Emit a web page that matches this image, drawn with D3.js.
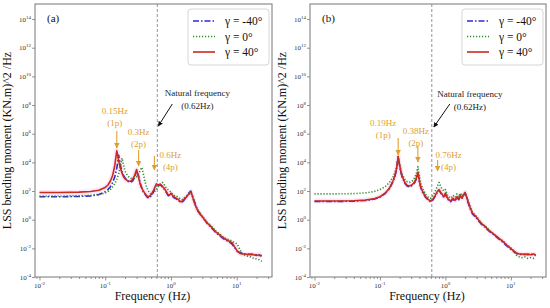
<!DOCTYPE html>
<html>
<head>
<meta charset="utf-8">
<script src="https://cdn.jsdelivr.net/npm/d3@7"></script>
<style>
  body { margin: 0; background: #fff; }
  svg { display: block; }
  text { font-family: "Liberation Serif", "Times New Roman", serif; }
</style>
</head>
<body>
<svg width="550" height="308"></svg>
<script>
// frequencies (Hz) and log10 of the PSD
var freqA = [0.01, 0.02, 0.04, 0.06, 0.08, 0.1, 0.11, 0.12, 0.13, 0.14,
  0.15, 0.155, 0.16, 0.17, 0.18, 0.19, 0.2, 0.22, 0.24, 0.26,
  0.28, 0.3, 0.32, 0.34, 0.36, 0.38, 0.4, 0.43, 0.46, 0.5,
  0.55, 0.6, 0.65, 0.7, 0.75, 0.8, 0.85, 0.9, 0.95, 1.0,
  1.05, 1.1, 1.2, 1.3, 1.4, 1.5, 1.6, 1.7, 1.8, 1.9,
  2.0, 2.1, 2.2, 2.4, 2.6, 2.8, 3.0, 3.3, 3.6, 4.0,
  4.4, 4.8, 5.3, 5.8, 6.4, 7.0, 7.7, 8.5, 9.3, 10.2,
  11.2, 12.3, 13.5, 14.8, 16.3, 18, 20, 22, 24];

var aNeg40 = [1.6, 1.6, 1.62, 1.66, 1.75, 1.95, 2.1, 2.3, 2.6, 3.0,
  3.6, 4.0, 4.5, 3.8, 3.35, 3.1, 2.9, 2.7, 2.6, 2.7,
  2.95, 3.3, 3.1, 2.55, 2.2, 1.95, 1.8, 1.6, 1.5, 1.65,
  2.0, 2.45, 2.4, 2.4, 2.25, 2.1, 1.9, 1.7, 1.65, 1.8,
  1.65, 1.55, 1.45, 1.35, 1.2, 1.25, 1.4, 1.55, 1.75, 1.9,
  2.0, 1.75, 1.45, 0.95, 0.6, 0.4, 0.2, -0.05, -0.3, -0.5,
  -0.7, -0.9, -1.05, -1.2, -1.35, -1.45, -1.55, -1.7, -1.95, -2.2,
  -2.3, -2.35, -2.4, -2.4, -2.45, -2.4, -2.45, -2.5, -2.5];

var aZero = [1.65, 1.65, 1.67, 1.7, 1.77, 1.85, 1.95, 2.1, 2.3, 2.5,
  2.8, 3.0, 3.2, 3.7, 4.3, 3.8, 3.4, 3.05, 2.9, 2.85,
  2.9, 3.0, 3.2, 3.4, 3.65, 3.2, 2.7, 2.2, 1.95, 1.75,
  1.9, 2.1, 2.35, 2.55, 2.6, 2.4, 2.2, 2.1, 2.0, 1.95,
  1.8, 1.7, 1.65, 1.55, 1.45, 1.4, 1.55, 1.6, 1.7, 1.8,
  1.85, 1.65, 1.35, 0.9, 0.6, 0.4, 0.25, 0.0, -0.2, -0.4,
  -0.6, -0.8, -0.95, -1.1, -1.25, -1.35, -1.4, -1.5, -1.6, -1.7,
  -2.1, -2.4, -2.5, -2.55, -2.6, -2.7, -2.75, -2.8, -2.9];

var aPos40 = [1.9, 1.9, 1.92, 1.97, 2.05, 2.25, 2.42, 2.7, 3.1, 3.8,
  4.8, 4.5, 4.1, 3.6, 3.25, 3.0, 2.85, 2.7, 2.68, 2.8,
  3.1, 3.5, 3.0, 2.5, 2.2, 2.0, 1.85, 1.65, 1.6, 1.75,
  2.1, 2.5, 2.4, 2.45, 2.3, 2.15, 1.95, 1.75, 1.7, 1.85,
  1.7, 1.6, 1.5, 1.4, 1.25, 1.3, 1.45, 1.55, 1.7, 1.85,
  1.95, 1.7, 1.4, 0.9, 0.55, 0.35, 0.2, -0.05, -0.25, -0.45,
  -0.65, -0.85, -1.0, -1.15, -1.3, -1.4, -1.5, -1.6, -1.9, -2.2,
  -2.35, -2.4, -2.4, -2.45, -2.4, -2.45, -2.5, -2.45, -2.55];

var freqB = [0.01, 0.02, 0.04, 0.06, 0.08, 0.1, 0.12, 0.14, 0.16, 0.17,
  0.18, 0.19, 0.2, 0.21, 0.22, 0.24, 0.26, 0.28, 0.3, 0.32,
  0.34, 0.36, 0.38, 0.4, 0.42, 0.45, 0.5, 0.55, 0.6, 0.65,
  0.7, 0.75, 0.8, 0.85, 0.9, 0.95, 1.0, 1.05, 1.1, 1.2,
  1.3, 1.4, 1.5, 1.6, 1.7, 1.8, 1.9, 2.0, 2.1, 2.2,
  2.4, 2.6, 2.8, 3.0, 3.3, 3.6, 4.0, 4.4, 4.8, 5.3,
  5.8, 6.4, 7.0, 7.7, 8.5, 9.3, 10.2, 11.2, 12.3, 13.5,
  14.8, 16.3, 18, 20, 22, 24];

var bNeg40 = [1.27, 1.27, 1.29, 1.34, 1.42, 1.57, 1.82, 2.17, 2.7, 3.05,
  3.55, 4.35, 3.75, 3.25, 2.95, 2.55, 2.35, 2.3, 2.35, 2.45,
  2.6, 2.85, 3.25, 2.65, 2.25, 1.9, 1.55, 1.35, 1.25, 1.4,
  1.65, 1.9, 2.05, 1.85, 1.7, 1.55, 1.8, 1.55, 1.4, 1.25,
  1.45, 1.3, 1.55, 1.4, 1.65, 1.5, 1.7, 1.85, 1.55, 1.25,
  0.75, 0.4, 0.25, 0.1, -0.15, -0.35, -0.5, -0.7, -0.85, -1.0,
  -1.15, -1.3, -1.45, -1.6, -1.8, -1.95, -2.1, -2.25, -2.35, -2.4,
  -2.45, -2.4, -2.45, -2.4, -2.45, -2.5];

var bZero = [1.8, 1.8, 1.82, 1.87, 1.95, 2.1, 2.3, 2.6, 3.0, 3.3,
  3.7, 4.4, 3.9, 3.45, 3.15, 2.8, 2.65, 2.6, 2.65, 2.75,
  2.95, 3.2, 3.7, 3.0, 2.55, 2.15, 1.75, 1.55, 1.5, 1.7,
  2.0, 2.3, 2.6, 2.3, 2.1, 2.0, 2.1, 1.8, 1.6, 1.5,
  1.7, 1.55, 1.8, 1.6, 1.85, 1.65, 1.8, 1.9, 1.7, 1.4,
  0.9, 0.5, 0.35, 0.2, -0.05, -0.25, -0.45, -0.6, -0.8, -0.95,
  -1.1, -1.25, -1.4, -1.5, -1.7, -1.85, -2.0, -2.2, -2.5, -2.6,
  -2.65, -2.6, -2.7, -2.65, -2.7, -2.75];

var bPos40 = [1.3, 1.3, 1.32, 1.37, 1.45, 1.6, 1.85, 2.2, 2.75, 3.1,
  3.6, 4.4, 3.8, 3.3, 3.0, 2.6, 2.4, 2.35, 2.4, 2.5,
  2.65, 2.9, 3.3, 2.7, 2.3, 1.95, 1.6, 1.4, 1.3, 1.45,
  1.7, 1.95, 2.1, 1.9, 1.75, 1.6, 1.85, 1.6, 1.45, 1.3,
  1.5, 1.35, 1.6, 1.45, 1.7, 1.5, 1.75, 1.9, 1.6, 1.3,
  0.8, 0.45, 0.3, 0.15, -0.1, -0.3, -0.45, -0.65, -0.8, -0.95,
  -1.1, -1.25, -1.4, -1.55, -1.75, -1.9, -2.05, -2.2, -2.35, -2.4,
  -2.4, -2.45, -2.4, -2.45, -2.4, -2.45];

var legendLabels = ["\u03B3 = -40\u00B0", "\u03B3 = 0\u00B0", "\u03B3 = 40\u00B0"];
var yTickExp = [-4, -2, 0, 2, 4, 6, 8, 10, 12, 14];
var xTickExp = [-2, -1, 0, 1];
var naturalFreq = 0.62;
var harmA = [0.15, 0.3, 0.6];
var harmLabelsA = ["0.15Hz", "0.3Hz", "0.6Hz"];
var harmB = [0.19, 0.38, 0.76];
var harmLabelsB = ["0.19Hz", "0.38Hz", "0.76Hz"];
var harmOrder = ["(1p)", "(2p)", "(4p)"];

var styles = [
  { color: "#2b2bd6", dash: "6,2,1.5,2", width: 1.6 },
  { color: "#2f8a2a", dash: "1.2,1.8", width: 1.6 },
  { color: "#cc2a1c", dash: null, width: 1.6 }
];
var noteColor = "#e0a030";

var svg = d3.select("svg");
var defs = svg.append("defs");
function marker(id, col) {
  defs.append("marker").attr("id", id)
    .attr("viewBox", "0 0 10 10").attr("refX", 9).attr("refY", 5)
    .attr("markerWidth", 5).attr("markerHeight", 5).attr("orient", "auto")
    .append("path").attr("d", "M0,0L10,5L0,10Z").attr("fill", col);
}
marker("headO", noteColor);
marker("headK", "#111");

var plotTop = 4, plotBottom = 277;

var panels = [
  { label: "(a)", left: 35, right: 272, freq: freqA, series: [aNeg40, aZero, aPos40],
    harm: harmA, harmLabels: harmLabelsA,
    // text centre dx, text baseline, arrow dx, arrow y0, arrow y1
    notes: [[-2, 114, 0, 131, 148], [2, 135, 2, 150, 166], [14, 158, -2, 156, 170]],
    nat: [40, 96, 15, 104, 1, 126] },
  { label: "(b)", left: 310, right: 546, freq: freqB, series: [bNeg40, bZero, bPos40],
    harm: harmB, harmLabels: harmLabelsB,
    notes: [[-15, 126, 0, 138, 155], [-2, 134, 0, 146, 162], [11, 158, 0, 160, 171]],
    nat: [38, 97, 18, 104, 2, 127] }
];

panels.forEach(function(p) {
  var g = svg.append("g");
  var x = d3.scaleLog().domain([0.00855, 34.4]).range([p.left, p.right]);
  var y = d3.scaleLog().domain([1e-4, Math.pow(10, 15.05)]).range([plotBottom, plotTop]);

  // ticks on x
  var xAxis = d3.axisBottom(x)
    .tickValues(xTickExp.map(function(e) { return Math.pow(10, e); }))
    .tickSize(3.5).tickFormat("");
  g.append("g").attr("transform", "translate(0," + plotBottom + ")").call(xAxis);
  var minors = [];
  for (var e = -3; e <= 1; e++) {
    for (var k = 2; k <= 9; k++) {
      var v = k * Math.pow(10, e);
      if (v > x.domain()[0] && v < x.domain()[1]) minors.push(v);
    }
  }
  g.append("g").attr("transform", "translate(0," + plotBottom + ")")
    .call(d3.axisBottom(x).tickValues(minors).tickSize(2).tickFormat(""));

  // ticks on y
  g.append("g").attr("transform", "translate(" + p.left + ",0)")
    .call(d3.axisLeft(y).tickValues(yTickExp.map(function(e) { return Math.pow(10, e); }))
      .tickSize(3).tickFormat(""));
  g.selectAll(".domain").remove();
  g.selectAll(".tick line").attr("stroke", "#666").attr("stroke-width", 0.7);

  xTickExp.forEach(function(e) {
    var t = g.append("text").attr("x", x(Math.pow(10, e))).attr("y", 288)
      .attr("text-anchor", "middle").attr("font-size", 7).attr("fill", "#333");
    t.append("tspan").text("10");
    t.append("tspan").attr("dy", -3).attr("font-size", 5).text(e);
  });
  yTickExp.forEach(function(e) {
    var t = g.append("text").attr("x", p.left - 4).attr("y", y(Math.pow(10, e)) + 2.5)
      .attr("text-anchor", "end").attr("font-size", 7).attr("fill", "#333");
    t.append("tspan").text("10");
    t.append("tspan").attr("dy", -3).attr("font-size", 5).text(e);
  });

  // frame
  g.append("rect").attr("x", p.left).attr("y", plotTop)
    .attr("width", p.right - p.left).attr("height", plotBottom - plotTop)
    .attr("fill", "none").attr("stroke", "#777").attr("stroke-width", 1);

  // natural frequency line
  g.append("line").attr("x1", x(naturalFreq)).attr("x2", x(naturalFreq))
    .attr("y1", plotTop).attr("y2", plotBottom)
    .attr("stroke", "#888").attr("stroke-width", 0.9).attr("stroke-dasharray", "3,2");

  var line = d3.line()
    .x(function(d, i) { return x(p.freq[i]); })
    .y(function(d) { return y(Math.pow(10, d)); });

  var plot = g.append("g");
  // faint pink glow around the 40 deg curve
  plot.append("path").attr("d", line(p.series[2]))
    .attr("fill", "none").attr("stroke", "#fbd0f2").attr("stroke-width", 5)
    .attr("stroke-linejoin", "round").attr("opacity", 0.5);
  p.series.forEach(function(s, i) {
    plot.append("path").attr("d", line(s))
      .attr("fill", "none").attr("stroke", styles[i].color)
      .attr("stroke-width", styles[i].width)
      .attr("stroke-dasharray", styles[i].dash)
      .attr("stroke-linejoin", "round");
  });

  // panel label
  g.append("text").attr("x", p.left + 12).attr("y", 22)
    .attr("font-size", 11).attr("fill", "#111").text(p.label);

  // harmonic notes
  p.harm.forEach(function(f, i) {
    var n = p.notes[i];
    var cx = x(f) + n[0];
    g.append("text").attr("x", cx).attr("y", n[1]).attr("text-anchor", "middle")
      .attr("font-size", 9).attr("fill", noteColor).text(p.harmLabels[i]);
    g.append("text").attr("x", cx).attr("y", n[1] + 12).attr("text-anchor", "middle")
      .attr("font-size", 9).attr("fill", noteColor).text(harmOrder[i]);
    g.append("line").attr("x1", x(f) + n[2]).attr("x2", x(f) + n[2])
      .attr("y1", n[3]).attr("y2", n[4])
      .attr("stroke", noteColor).attr("stroke-width", 1.1)
      .attr("marker-end", "url(#headO)");
  });

  // natural frequency note
  var xn = x(naturalFreq), nt = p.nat;
  g.append("text").attr("x", xn + nt[0]).attr("y", nt[1]).attr("text-anchor", "middle")
    .attr("font-size", 9).attr("fill", "#222").text("Natural frequency");
  g.append("text").attr("x", xn + nt[0]).attr("y", nt[1] + 13).attr("text-anchor", "middle")
    .attr("font-size", 9).attr("fill", "#222").text("(0.62Hz)");
  g.append("line").attr("x1", xn + nt[2]).attr("y1", nt[3])
    .attr("x2", xn + nt[4]).attr("y2", nt[5])
    .attr("stroke", "#111").attr("stroke-width", 1).attr("marker-end", "url(#headK)");

  // legend
  var lx = p.right - 84;
  g.append("rect").attr("x", lx).attr("y", 9).attr("width", 81).attr("height", 56)
    .attr("rx", 3).attr("fill", "#fff").attr("stroke", "#ccc").attr("stroke-width", 0.8);
  legendLabels.forEach(function(l, i) {
    var ly = 21 + i * 15.5;
    g.append("line").attr("x1", lx + 5).attr("x2", lx + 27).attr("y1", ly).attr("y2", ly)
      .attr("stroke", styles[i].color).attr("stroke-width", styles[i].width)
      .attr("stroke-dasharray", styles[i].dash);
    g.append("text").attr("x", lx + 37).attr("y", ly + 4)
      .attr("font-size", 11.5).attr("fill", "#111").text(l);
  });

  // axis titles
  g.append("text").attr("x", (p.left + p.right) / 2 - 1).attr("y", 300)
    .attr("text-anchor", "middle").attr("font-size", 12).attr("fill", "#111")
    .text("Frequency (Hz)");
  g.append("text")
    .attr("transform", "translate(" + (p.left - 24) + "," + ((plotTop + plotBottom) / 2) + ") rotate(-90)")
    .attr("text-anchor", "middle").attr("font-size", 12).attr("fill", "#111")
    .text("LSS bending moment (KN.m)^2 /Hz");
});
</script>
</body>
</html>
